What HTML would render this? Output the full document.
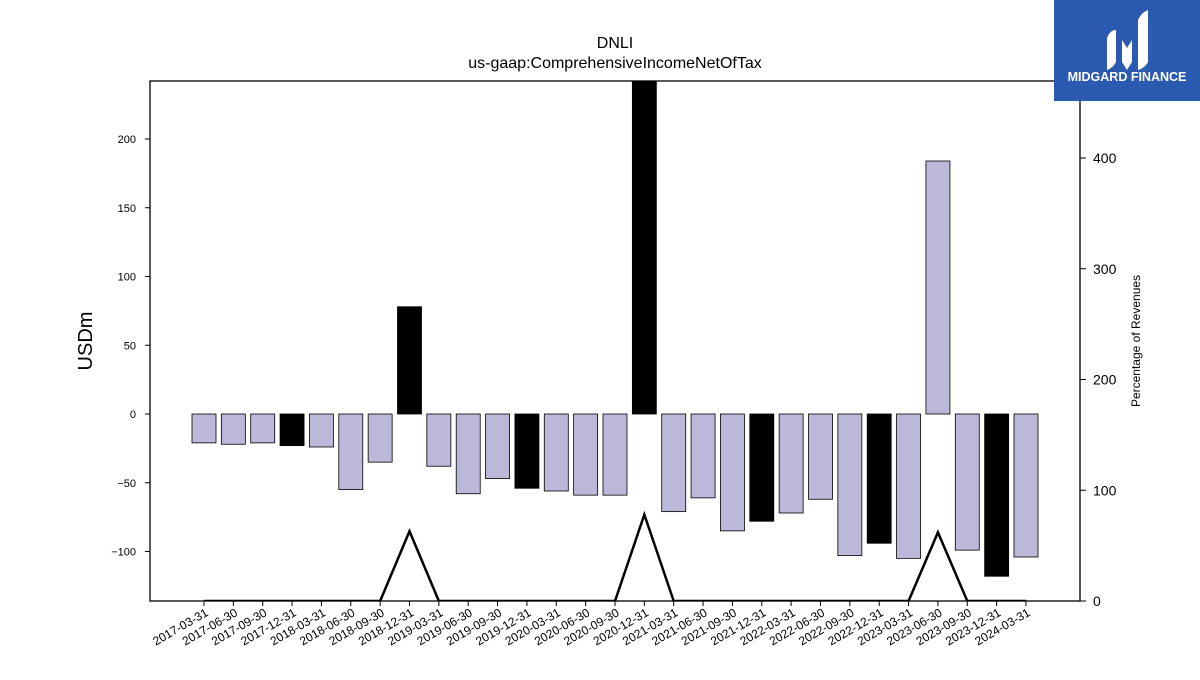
<!DOCTYPE html>
<html><head><meta charset="utf-8"><style>
body{margin:0;background:#fff;font-family:"Liberation Sans","DejaVu Sans",sans-serif}
</style></head><body>
<svg id="c" width="1200" height="675" xmlns="http://www.w3.org/2000/svg">
<text x="615" y="48" text-anchor="middle" font-size="16">DNLI</text>
<text x="615" y="68" text-anchor="middle" font-size="16">us-gaap:ComprehensiveIncomeNetOfTax</text>
<g id="plot"></g>
<text transform="translate(92,341) rotate(-90)" text-anchor="middle" font-size="20">USDm</text>
<text transform="translate(1140,341) rotate(-90)" text-anchor="middle" font-size="12">Percentage of Revenues</text>
<g>
<rect x="1054" y="0" width="146" height="101" fill="#2b5bb0"/>
<path d="M1107 70 L1107 38 Q1110 30 1116 30 L1116 62 Q1113 68 1107 70Z" fill="#fff"/>
<path d="M1122 62 L1122 40 L1127 48 L1132 40 L1132 62 L1127 70Z" fill="#fff"/>
<path d="M1138 70 L1138 20 Q1142 12 1148 10 L1148 62 Q1145 68 1138 70Z" fill="#fff"/>
<text x="1127" y="81" text-anchor="middle" font-size="12.5" font-weight="bold" fill="#fff">MIDGARD FINANCE</text>
</g>
</svg>
<script>
const categories=["2017-03-31","2017-06-30","2017-09-30","2017-12-31","2018-03-31","2018-06-30","2018-09-30","2018-12-31","2019-03-31","2019-06-30","2019-09-30","2019-12-31","2020-03-31","2020-06-30","2020-09-30","2020-12-31","2021-03-31","2021-06-30","2021-09-30","2021-12-31","2022-03-31","2022-06-30","2022-09-30","2022-12-31","2023-03-31","2023-06-30","2023-09-30","2023-12-31","2024-03-31"];
const values=[-21,-22,-21,-23,-24,-55,-35,78,-38,-58,-47,-54,-56,-59,-59,260,-71,-61,-85,-78,-72,-62,-103,-94,-105,184,-99,-118,-104];
const annual=[0,0,0,1,0,0,0,1,0,0,0,1,0,0,0,1,0,0,0,1,0,0,0,1,0,0,0,1,0];
const pctRevenue=[0,0,0,0,0,0,0,63,0,0,0,0,0,0,0,78,0,0,0,0,0,0,0,0,0,62,0,0,0];
const leftTicks=[-100,-50,0,50,100,150,200];
const rightTicks=[0,100,200,300,400];
const NS="http://www.w3.org/2000/svg";
const X0=150,X1=1080,Y0=81,Y1=601;
const yL=v=>414-v*1.375;
const yR=v=>601-v*1.1075;
const xC=i=>204+i*(1026-204)/(categories.length-1);
const g=document.getElementById('plot');
function mk(t,a){const e=document.createElementNS(NS,t);for(const k in a)e.setAttribute(k,a[k]);g.appendChild(e);return e;}
const cp=document.createElementNS(NS,'clipPath');cp.setAttribute('id','clip');
const cr=document.createElementNS(NS,'rect');cr.setAttribute('x',X0);cr.setAttribute('y',Y0);cr.setAttribute('width',X1-X0);cr.setAttribute('height',Y1-Y0);cp.appendChild(cr);g.appendChild(cp);
values.forEach((v,i)=>{
 const y=Math.min(yL(v),yL(0)),h=Math.abs(yL(v)-yL(0));
 const b=mk('rect',{x:xC(i)-12,y:y,width:24,height:h,fill:annual[i]?'#000':'#bcb8d9',stroke:'#000','stroke-width':0.8,'clip-path':'url(#clip)'});
 
 
});
let d='';pctRevenue.forEach((v,i)=>{d+=(i?'L':'M')+xC(i)+' '+yR(v);});
const ln=mk('path',{d:d,fill:'none',stroke:'#000','stroke-width':2.5,'clip-path':'url(#clip)'});


const fr=mk('rect',{x:X0,y:Y0,width:X1-X0,height:Y1-Y0,fill:'none',stroke:'#000','stroke-width':1.3});


leftTicks.forEach(v=>{
 mk('line',{x1:X0-5,x2:X0,y1:yL(v),y2:yL(v),stroke:'#000'});
 const t=mk('text',{x:X0-14,y:yL(v)+4,'text-anchor':'end','font-size':11});
 t.textContent=v<0?'\u2212'+(-v):v;
 
 
});
rightTicks.forEach(v=>{
 mk('line',{x1:X1,x2:X1+6,y1:yR(v),y2:yR(v),stroke:'#000'});
 const t=mk('text',{x:X1+13,y:yR(v)+5,'font-size':14});
 t.textContent=v;
 
 
});
categories.forEach((c,i)=>{
 mk('line',{x1:xC(i),x2:xC(i),y1:Y1,y2:Y1+5,stroke:'#000'});
 const t=mk('text',{transform:`translate(${xC(i)+5},${Y1+14}) rotate(-30)`,'text-anchor':'end','font-size':12});
 t.textContent=c;
 
 
});
</script>
</body></html>
